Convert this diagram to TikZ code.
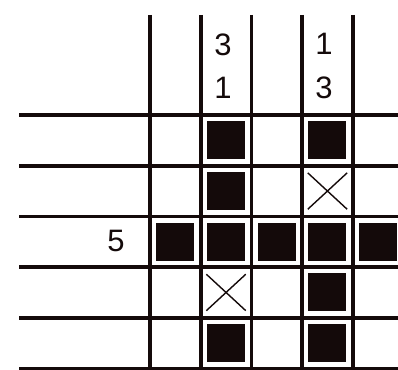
\documentclass[tikz,border=0pt]{standalone}
\usepackage{fontspec}
\setmainfont{Liberation Sans}
\usetikzlibrary{positioning,shapes.misc}
\definecolor{ink}{HTML}{140A0A}

\begin{document}
\begin{tikzpicture}[x=1pt,y=-1pt,
    grid/.style={line width=3.6pt, ink},
    filled/.style={fill=ink, minimum size=38pt, inner sep=0pt},
    crossed/.style={cross out, draw=ink, line width=1.4pt, minimum width=38pt, minimum height=35pt, inner sep=0pt},
    clue/.style={font=\fontsize{31}{34}\selectfont, text=ink, inner sep=0pt}]
  \useasboundingbox (0,0) rectangle (398,369);
  \clip (0,0) rectangle (398,369);
  % grid lines
  \foreach \i in {0,...,4} \draw[grid] (150+50.7*\i,15) -- (150+50.7*\i,375);
  \foreach \j in {0,...,5} \draw[grid] (19,115+50.7*\j) -- (405,115+50.7*\j);
  % column and row clues
  \node[clue] (c2top) at (223,45) {3};
  \node[clue] (c2bot) at (223,88) {1};
  \node[clue] (c4top) at (324,44) {1};
  \node[clue] (c4bot) at (324,88) {3};
  \node[clue] (r3) at (116,241) {5};
  % filled cells: column/row
  \foreach \c/\r in {1/3,2/1,2/2,2/3,2/5,3/3,4/1,4/3,4/4,4/5,5/3}
    \node[filled] (sq\c\r) at (150+50.7*\c-25.35,115+50.7*\r-25.35) {};
  % crossed cells
  \foreach \c/\r in {4/2,2/4}
    \node[crossed] (x\c\r) at (150+50.7*\c-25.35,115+50.7*\r-25.35) {};
\end{tikzpicture}
\end{document}
